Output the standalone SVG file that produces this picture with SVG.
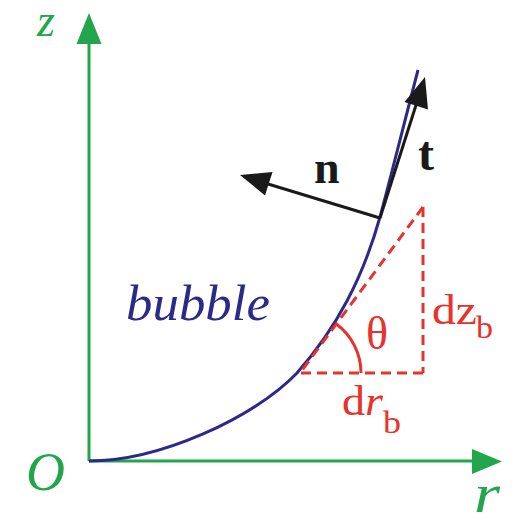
<svg xmlns="http://www.w3.org/2000/svg" width="532" height="527" viewBox="0 0 532 527">
<style>
.ax{stroke:#22a64b;stroke-width:3;fill:none}
.axh{fill:#22a64b;stroke:none}
.axt{fill:#22a64b;font-family:"Liberation Serif",serif;font-style:italic}
.vec{stroke:#1a1a1a;stroke-width:3;fill:none}
.vech{fill:#1a1a1a;stroke:none}
.vect{fill:#1a1a1a;font-family:"Liberation Serif",serif;font-weight:bold}
.red{stroke:#e8322b;stroke-width:3;fill:none}
.dash{stroke-dasharray:10 6}
.rt{fill:#e8322b;font-family:"Liberation Serif",serif}
.curve{stroke:#2b2a88;stroke-width:3;fill:none}
</style>
<rect width="532" height="527" fill="#ffffff"/>
<g id="axes">
<line class="ax" x1="89" y1="461" x2="89" y2="40"/>
<polygon class="axh" points="89,13 76.5,44 101.5,44"/>
<line class="ax" x1="89" y1="461" x2="476" y2="461"/>
<polygon class="axh" points="502,461.5 472,449 472,474"/>
<text class="axt" x="37" y="36" font-size="46">z</text>
<text class="axt" x="26" y="490" font-size="54">O</text>
<text class="axt" x="474" y="512" font-size="54" textLength="26" lengthAdjust="spacingAndGlyphs">r</text>
</g>
<g id="bubble">
<path class="curve" d="M89,461 C159,461 254,418 297,373 C336.8,327.8 362.8,278.2 380,217 C388,188 405,120 418,70"/>
<text x="126" y="320" font-size="50" font-family="Liberation Serif,serif" font-style="italic" fill="#2b2a88" textLength="144" lengthAdjust="spacingAndGlyphs">bubble</text>
</g>
<g id="triangle">
<line class="red dash" x1="423" y1="207" x2="423" y2="373"/>
<line class="red dash" x1="423" y1="373" x2="300" y2="373"/>
<line class="red dash" x1="423" y1="207" x2="300" y2="373"/>
<path class="red" d="M361,373 A61,61 0 0 0 336.3,324"/>
<text class="rt" x="366" y="349" font-size="46">θ</text>
<text class="rt" x="432" y="324" font-size="43" textLength="45" lengthAdjust="spacingAndGlyphs">dz</text>
<text class="rt" x="476" y="338" font-size="32" textLength="17" lengthAdjust="spacingAndGlyphs">b</text>
<text class="rt" x="342" y="415" font-size="43" textLength="41" lengthAdjust="spacingAndGlyphs">d<tspan font-style="italic">r</tspan></text>
<text class="rt" x="383" y="433" font-size="32" textLength="18" lengthAdjust="spacingAndGlyphs">b</text>
</g>
<g id="vectors">
<line class="vec" x1="380" y1="218" x2="268" y2="184"/>
<polygon class="vech" points="240,175 272.5,172 265,195.5"/>
<line class="vec" x1="380" y1="218" x2="417" y2="102"/>
<polygon class="vech" points="425,77 404.5,102 428,109.5"/>
<text class="vect" x="314" y="183" font-size="46">n</text>
<text class="vect" x="418" y="170" font-size="48">t</text>
</g>
</svg>
